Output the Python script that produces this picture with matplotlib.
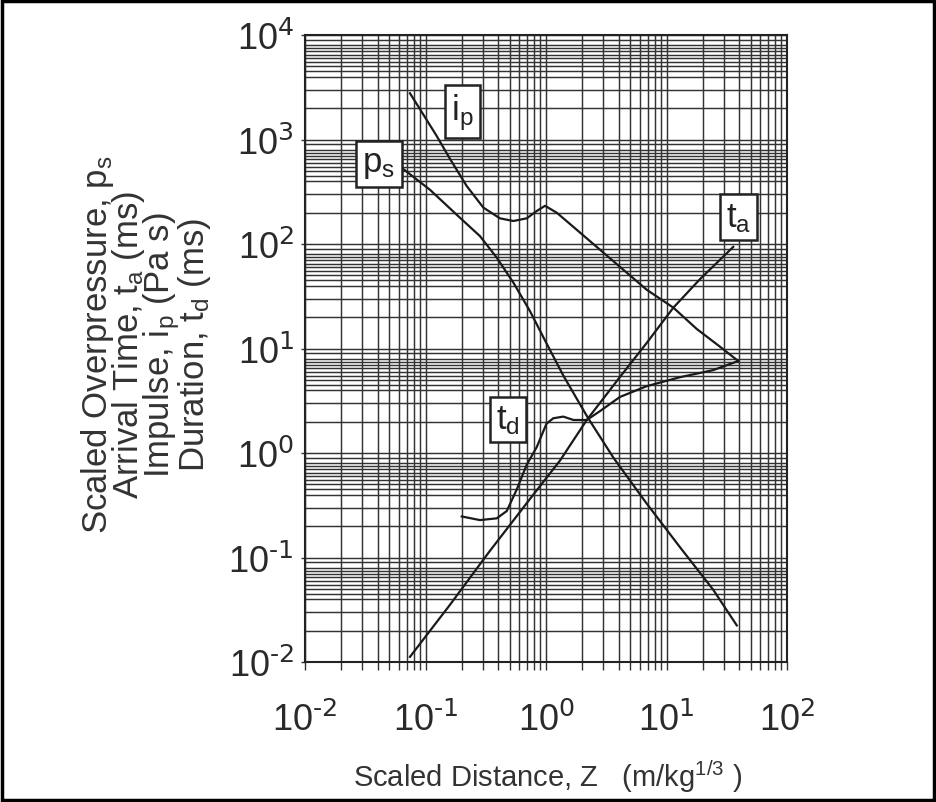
import numpy as np
import matplotlib
matplotlib.use("Agg")
import matplotlib.pyplot as plt
from matplotlib.ticker import LogLocator, NullFormatter, FuncFormatter
from matplotlib.patches import Rectangle

plt.rcParams['font.family'] = ['Liberation Sans', 'DejaVu Sans']
plt.rcParams['mathtext.default'] = 'regular'
plt.rcParams['axes.unicode_minus'] = False

# values, Z in m/kg^(1/3)
z_ps = [0.063, 0.109, 0.182, 0.283, 0.390, 0.536, 0.736, 1.01, 1.39, 1.91, 2.24, 3.62, 6.85, 12.9, 24.4, 38.3]
ps = [540, 330, 190, 119, 74.1, 42.7, 22.8, 11.2, 5.53, 2.94, 2.15, 0.904, 0.328, 0.126, 0.0492, 0.0224]

z_ip = [0.0743, 0.0960, 0.124, 0.160, 0.220, 0.302, 0.415, 0.536, 0.692, 0.838, 0.982, 1.23, 1.91, 3.62, 6.85, 11.4, 17.8, 27.8, 39.4]
ip = [2770, 1730, 1078, 650, 358, 223, 176, 166, 176, 207, 232, 199, 129, 68.5, 36.5, 24.6, 15.4, 10.4, 7.59]

z_ta = [0.0743, 0.157, 0.337, 0.736, 1.31, 2.18, 4.11, 6.85, 11.4, 19.0, 35.8]
ta = [0.0112, 0.0344, 0.113, 0.363, 0.85, 2.07, 5.34, 11.3, 24.6, 46.2, 93.8]

z_td = [0.200, 0.283, 0.390, 0.472, 0.571, 0.692, 0.838, 1.01, 1.15, 1.39, 1.69, 2.18, 2.81, 4.11, 6.85, 12.9, 24.4, 39.4]
td = [0.247, 0.228, 0.237, 0.278, 0.446, 0.773, 1.14, 1.91, 2.15, 2.23, 2.07, 2.07, 2.52, 3.44, 4.36, 5.31, 6.21, 7.59]

curve_labels = ["p$_s$", "i$_p$", "t$_a$", "t$_d$"]
label_z = [0.041, 0.203, 39.6, 0.484]
label_v = [583, 1854, 181, 2.10]


def pow_label(v, pos):
    # hyphen-style minus like the original print
    return r"10$^{\text{%d}}$" % int(round(np.log10(v)))


fig = plt.figure(figsize=(9.36, 8.03), dpi=100)
ax = fig.add_axes([305 / 936, 1 - 663 / 803, 482 / 936, 627 / 803])
ax.set_xscale('log')
ax.set_yscale('log')
ax.set_xlim(1e-2, 1e2)
ax.set_ylim(1e-2, 1e4)

ax.xaxis.set_major_locator(LogLocator(base=10, numticks=10))
ax.yaxis.set_major_locator(LogLocator(base=10, numticks=10))
ax.xaxis.set_major_formatter(FuncFormatter(pow_label))
ax.yaxis.set_major_formatter(FuncFormatter(pow_label))
ax.xaxis.set_minor_locator(LogLocator(base=10, subs=np.arange(2, 10), numticks=20))
ax.yaxis.set_minor_locator(LogLocator(base=10, subs=[2, 3, 4, 4.5, 5, 5.5, 6, 6.5, 7, 7.5, 8, 9], numticks=20))
ax.xaxis.set_minor_formatter(NullFormatter())
ax.yaxis.set_minor_formatter(NullFormatter())

ax.grid(True, which='both', color='#333333', lw=1.05)
for s in ax.spines.values():
    s.set_color('#222222')
    s.set_linewidth(1.5)

ax.tick_params(axis='x', which='both', direction='out', length=6, width=1.0, color='#333333',
               labelsize=26, pad=23, labelcolor='#2a2a2a')
ax.tick_params(axis='y', which='major', direction='out', length=3, width=1.0, color='#333333',
               labelsize=26, pad=5, labelcolor='#2a2a2a')
ax.tick_params(axis='y', which='minor', length=0)

ax.plot(z_ps, ps, color='#1a1a1a', lw=1.6)
ax.plot(z_ip, ip, color='#1a1a1a', lw=1.6)
ax.plot(z_ta, ta, color='#1a1a1a', lw=1.6)
ax.plot(z_td, td, color='#1a1a1a', lw=1.6)

for txt, x, y in zip(curve_labels, label_z, label_v):
    ax.text(x, y, txt, fontsize=25, ha='center', va='center', color='#222222', zorder=5,
            bbox=dict(boxstyle='square,pad=0.18', fc='white', ec='#222222', lw=1.8))

fig.text(548 / 936, 1 - 777 / 803, "Scaled Distance, Z   (m/kg$^{1/3}$ )", fontsize=21,
         ha='center', va='center', color='#333333')
fig.text(146 / 936, 1 - 345 / 803,
         "Scaled Overpressure, p$_s$\nArrival Time, t$_a$ (ms)\nImpulse, i$_p$ (Pa s)\nDuration, t$_d$ (ms)",
         fontsize=25, rotation=90, ha='center', va='center', multialignment='center',
         linespacing=0.8, color='#333333')

fig.patches.append(Rectangle((0.002, 0.002), 0.996, 0.996, transform=fig.transFigure,
                             fill=False, ec='black', lw=2.5))

fig.savefig('out.png', dpi=100)
